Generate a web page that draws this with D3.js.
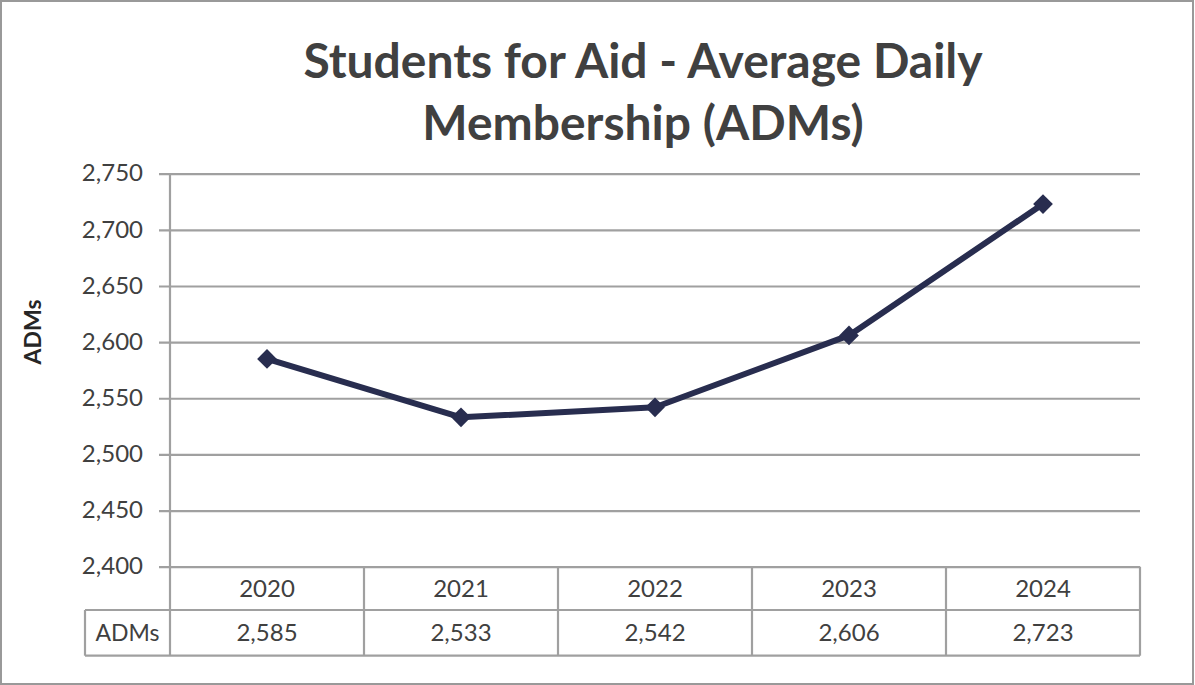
<!DOCTYPE html>
<html><head><meta charset="utf-8">
<script src="https://cdn.jsdelivr.net/npm/d3@7"></script>
<style>body{margin:0;background:#fff}svg{display:block}</style>
</head><body>
<svg id="c" width="1195" height="685"></svg>
<script>
const years = ["2020","2021","2022","2023","2024"];
const adms = [2585, 2533, 2542, 2606, 2723];
const yTicks = [2400, 2450, 2500, 2550, 2600, 2650, 2700, 2750];
const seriesName = "ADMs";
const titleLines = ["Students for Aid - Average Daily", "Membership (ADMs)"];
const yLabel = "ADMs";

const W = 1195, H = 685;
const svg = d3.select("#c");
const font = "Lato, 'Open Sans', sans-serif";
const plot = {left:170, right:1140, top:173.7, bottom:566.7};
const gridColor = "#a0a0a0", textColor = "#404040", lineColor = "#282d4f";
const fs = 24;

svg.append("rect").attr("x",1).attr("y",1).attr("width",W-3).attr("height",H-2)
  .attr("fill","#fff").attr("stroke","#999").attr("stroke-width",2);

const x = d3.scaleBand().domain(years).range([plot.left, plot.right]);
const y = d3.scaleLinear().domain([2400, 2750]).range([plot.bottom, plot.top]);

// gridlines + y axis
const yAxis = d3.axisLeft(y).tickValues(yTicks).tickFormat(d3.format(",")).tickSize(plot.right - plot.left + 11).tickPadding(16);
const gy = svg.append("g").attr("transform",`translate(${plot.right},0)`).call(yAxis);
gy.select(".domain").remove();
gy.selectAll(".tick line").attr("stroke",gridColor).attr("stroke-width",2.2);
gy.selectAll(".tick text").attr("fill",textColor).attr("font-family",font).attr("font-size",fs).attr("dy","0.3em");

// vertical axis line
svg.append("line").attr("x1",plot.left).attr("x2",plot.left).attr("y1",plot.top).attr("y2",plot.bottom)
  .attr("stroke",gridColor).attr("stroke-width",2.2);

// data table
const row1 = [plot.bottom, 610], row2 = [610, 655.7];
const tbl = svg.append("g");
function L(x1,y1,x2,y2){tbl.append("line").attr("x1",x1).attr("y1",y1).attr("x2",x2).attr("y2",y2).attr("stroke",gridColor).attr("stroke-width",2.2);}
L(plot.left, row1[1], plot.right, row1[1]);
L(85, row1[1], 85, row2[1]);
L(85, row1[1], plot.left, row1[1]);
L(85, row2[1], plot.right, row2[1]);
L(plot.right, row1[0], plot.right, row2[1]);
years.forEach(yr => { L(x(yr), row1[0], x(yr), row2[1]); });
tbl.selectAll("text.yr").data(years).join("text").attr("class","yr")
  .attr("x", d => x(d) + x.bandwidth()/2).attr("y", (row1[0]+row1[1])/2).attr("dy","0.35em")
  .attr("text-anchor","middle").attr("fill",textColor).attr("font-family",font).attr("font-size",fs).text(d=>d);
tbl.selectAll("text.val").data(adms).join("text").attr("class","val")
  .attr("x", (d,i) => x(years[i]) + x.bandwidth()/2).attr("y", (row2[0]+row2[1])/2).attr("dy","0.35em")
  .attr("text-anchor","middle").attr("fill",textColor).attr("font-family",font).attr("font-size",fs).text(d=>d3.format(",")(d));
tbl.append("text").attr("x",(85+plot.left)/2).attr("y",(row2[0]+row2[1])/2).attr("dy","0.35em")
  .attr("text-anchor","middle").attr("fill",textColor).attr("font-family",font).attr("font-size",fs-1).text(seriesName);

// line
const line = d3.line().x((d,i)=>x(years[i])+x.bandwidth()/2).y(d=>y(d));
svg.append("path").datum(adms).attr("d",line).attr("fill","none").attr("stroke",lineColor).attr("stroke-width",6).attr("stroke-linejoin","round");
const sym = d3.symbol().type(d3.symbolSquare).size(195);
svg.selectAll("path.m").data(adms).join("path").attr("class","m").attr("d",sym())
  .attr("transform",(d,i)=>`translate(${x(years[i])+x.bandwidth()/2},${y(d)}) rotate(45)`)
  .attr("fill",lineColor);

// title
svg.selectAll("text.title").data(titleLines).join("text").attr("class","title")
  .attr("x", 643).attr("y",(d,i)=> i===0 ? 78 : 140)
  .attr("text-anchor","middle").attr("fill",textColor).attr("font-family",font)
  .attr("font-weight","bold").attr("font-size",48).text(d=>d);

// y label
svg.append("text").attr("transform","translate(41,332) rotate(-90)").attr("text-anchor","middle")
  .attr("fill","#262626").attr("font-family",font).attr("font-weight","bold").attr("font-size",23).text(yLabel);
</script>
</body></html>
